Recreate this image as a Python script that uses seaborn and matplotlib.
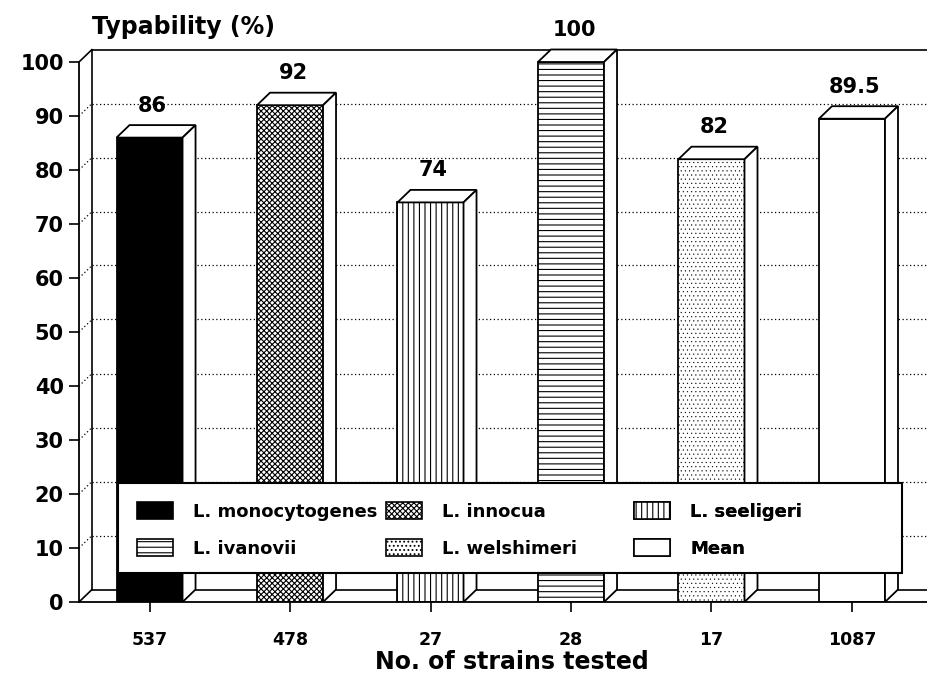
import matplotlib
matplotlib.use("Agg")
import matplotlib.pyplot as plt
from matplotlib.patches import Polygon, Patch, Rectangle
import seaborn as sns
import pandas as pd

# Values
species = ['L. monocytogenes', 'L. innocua', 'L. seeligeri',
           'L. ivanovii', 'L. welshimeri', 'Mean']
typability = [86, 92, 74, 100, 82, 89.5]
strains_tested = ['537', '478', '27', '28', '17', '1087']

# Fill styles for each species
face_colors = ['black', 'white', 'white', 'white', 'white', 'white']
hatches = ['', 'xxxxxx', '|||', '---', '....', '']

sns.set_theme(style="white")
plt.rcParams['font.family'] = ['DejaVu Sans']
plt.rcParams['hatch.linewidth'] = 0.8
plt.rcParams['hatch.color'] = 'black'
for key in ['text.color', 'axes.labelcolor', 'xtick.color', 'ytick.color']:
    plt.rcParams[key] = 'black'

df = pd.DataFrame({'species': species, 'typability': typability,
                   'strains': strains_tested})

fig = plt.figure(figsize=(9.27, 6.75), dpi=100)
# axes: front y axis at x=79px, y=0 at 602px, 5.4 px per percent
ax = fig.add_axes([79 / 927, 73 / 675, (927 - 79) / 927, 582 / 675])

sns.barplot(data=df, x='strains', y='typability', hue='species',
            palette=dict(zip(species, face_colors)), dodge=False,
            width=0.47, legend=False, ax=ax)

x0, x1 = -0.502, 5.534
ax.set_xlim(x0, x1)
ax.set_ylim(0, 582 / 5.4)

# 3D depth offset in data units (13 px right, 12.5 px up)
dx = 13 / 140.5
dy = 12.5 / 5.4

# back wall and floor
wall_kw = dict(color='black', lw=1.2, zorder=0.5, clip_on=False)
ax.plot([x0, x0 + dx], [100, 100 + dy], **wall_kw)
ax.plot([x0 + dx, x1], [100 + dy, 100 + dy], **wall_kw)
ax.plot([x0 + dx, x0 + dx], [dy, 100 + dy], **wall_kw)
ax.plot([x0, x0 + dx], [0, dy], **wall_kw)
ax.plot([x0 + dx, x1], [dy, dy], **wall_kw)
for t in range(10, 100, 10):
    ax.plot([x0, x0 + dx], [t, t + dy], color='black', lw=0.9,
            ls=(0, (1, 2)), zorder=0.5, clip_on=False)
    ax.plot([x0 + dx, x1], [t + dy, t + dy], color='black', lw=0.9,
            ls=(0, (1, 2)), zorder=0.5, clip_on=False)

# style bars and add the top and side faces
bars = sorted(ax.patches, key=lambda p: p.get_x())
for bar, h, val in zip(bars, hatches, typability):
    bar.set_hatch(h)
    bar.set_edgecolor('black')
    bar.set_linewidth(1.3)
    bar.set_zorder(2)
    if h == '....' and hasattr(bar, 'set_hatch_linewidth'):
        bar.set_hatch_linewidth(0.3)
    x = bar.get_x()
    w = bar.get_width()
    top = [(x, val), (x + w, val), (x + w + dx, val + dy), (x + dx, val + dy)]
    side = [(x + w, 0), (x + w + dx, dy), (x + w + dx, val + dy), (x + w, val)]
    for pts in (top, side):
        ax.add_patch(Polygon(pts, closed=True, facecolor='white',
                             edgecolor='black', lw=1.3, zorder=2))
    label = f"{val:g}"
    ax.annotate(label, xy=(x + w / 2, val), xytext=(3, 22),
                textcoords='offset pixels', ha='center', va='bottom',
                fontsize=15, fontweight='bold')

# axes styling
for s in ['top', 'right']:
    ax.spines[s].set_visible(False)
for s in ['left', 'bottom']:
    ax.spines[s].set_color('black')
    ax.spines[s].set_linewidth(1.3)
ax.spines['left'].set_bounds(0, 100)
ax.set_yticks(range(0, 101, 10))
ax.tick_params(axis='y', direction='out', length=7, width=1.2, pad=4,
               labelsize=15, left=True)
ax.tick_params(axis='x', direction='out', length=7, width=1.2, pad=14,
               labelsize=12.5, bottom=True)
for lab in ax.get_yticklabels() + ax.get_xticklabels():
    lab.set_fontweight('bold')
ax.set_xlabel('')
ax.set_ylabel('')

fig.text(92 / 927, 1 - 27 / 675, 'Typability (%)', ha='left', va='center',
         fontsize=17, fontweight='bold')
fig.text(512 / 927, 1 - 662 / 675, 'No. of strains tested', ha='center',
         va='center', fontsize=17, fontweight='bold')

# legend: framed box with three columns
ax.add_patch(Rectangle((39 / 848, 29 / 582), 784 / 848, 90 / 582,
                       transform=ax.transAxes, facecolor='white',
                       edgecolor='black', lw=1.5, zorder=4.5))
handles = [Patch(facecolor=c, edgecolor='black', hatch=h, lw=1.2, label=s)
           for s, c, h in zip(species, face_colors, hatches)]
col_x = [(137 - 79) / 848, (386 - 79) / 848, (634 - 79) / 848]
for k in range(3):
    col = [handles[k], handles[k + 3]]
    leg = ax.legend(handles=col, loc='upper left',
                    bbox_to_anchor=(col_x[k], (602 - 502) / 582),
                    frameon=False, borderpad=0, borderaxespad=0,
                    handlelength=2.0, handleheight=1.05, handletextpad=1.1,
                    labelspacing=1.05, prop={'size': 13, 'weight': 'bold'})
    leg.set_zorder(5)
    ax.add_artist(leg)

fig.savefig('out.png', dpi=100)
